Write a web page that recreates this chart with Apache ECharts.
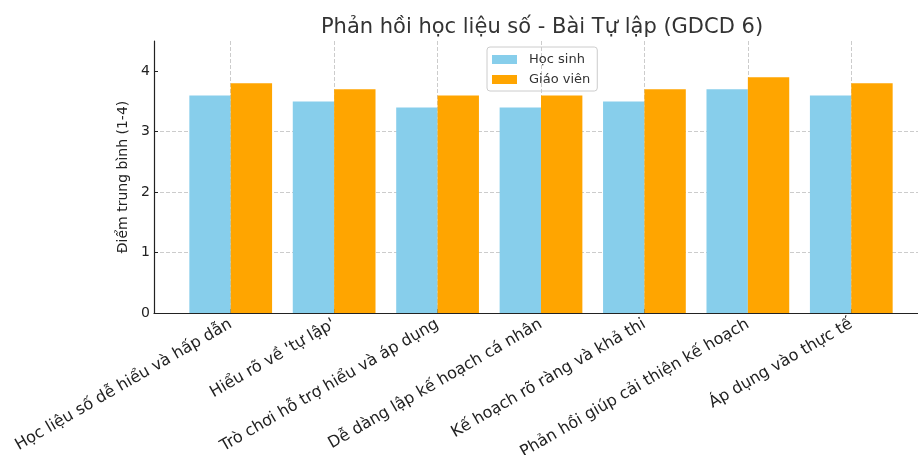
<!DOCTYPE html>
<html>
<head>
<meta charset="utf-8">
<script src="https://cdn.jsdelivr.net/npm/echarts@6/dist/echarts.min.js"></script>
<style>
    html, body { margin: 0; padding: 0; background: #fff; }
    #chart { width: 918px; height: 455px; }
</style>
</head>
<body>
<div id="chart"></div>
<script>
var categories = [
    "Học liệu số dễ hiểu và hấp dẫn",
    "Hiểu rõ về 'tự lập'",
    "Trò chơi hỗ trợ hiểu và áp dụng",
    "Dễ dàng lập kế hoạch cá nhân",
    "Kế hoạch rõ ràng và khả thi",
    "Phản hồi giúp cải thiện kế hoạch",
    "Áp dụng vào thực tế"
];
var hocSinh = [3.6, 3.5, 3.4, 3.4, 3.5, 3.7, 3.6];
var giaoVien = [3.8, 3.7, 3.6, 3.6, 3.7, 3.9, 3.8];
var yTicks = [0, 1, 2, 3, 4];

var font = "DejaVu Sans";
var chart = echarts.init(document.getElementById("chart"));
chart.setOption({
    animation: false,
    color: ["#87CEEB", "#FFA500"],
    textStyle: { fontFamily: font },
    title: {
        text: "Phản hồi học liệu số - Bài Tự lập (GDCD 6)",
        left: 537,
        textAlign: "center",
        top: 12,
        textStyle: { fontSize: 21, fontWeight: "normal", color: "#333", fontFamily: font }
    },
    legend: {
        left: 487,
        top: 47,
        orient: "vertical",
        itemWidth: 25,
        itemHeight: 9,
        itemGap: 7,
        padding: [6, 7, 5, 5],
        borderColor: "#ccc",
        borderWidth: 1,
        borderRadius: 3,
        icon: "rect",
        textStyle: { fontSize: 13, color: "#333", fontFamily: font, padding: [0, 0, 0, 7] },
        data: ["Học sinh", "Giáo viên"]
    },
    grid: [
        // full axes frame
        { left: 154, right: -10, top: 41, bottom: 142, outerBoundsMode: "none" },
        // bar area, category bands
        { left: 179, right: 15, top: 41, bottom: 142, outerBoundsMode: "none" }
    ],
    xAxis: [
        {
            gridIndex: 0,
            type: "value",
            min: -0.74,
            max: 6.74,
            axisLine: { show: true, onZero: false, lineStyle: { color: "#222", width: 1.2 } },
            axisTick: { show: false },
            axisLabel: { show: false },
            splitLine: { show: false }
        },
        {
            gridIndex: 1,
            type: "category",
            data: categories,
            axisLine: { show: false },
            axisTick: { show: true, inside: true, alignWithLabel: true, length: 4, lineStyle: { color: "#222" } },
            axisLabel: { rotate: 30, fontSize: 16, color: "#222", margin: 10, fontFamily: font, interval: 0 },
            splitLine: { show: true, alignWithLabel: true, lineStyle: { type: "dashed", color: "#ccc" } }
        }
    ],
    yAxis: [
        {
            gridIndex: 0,
            type: "value",
            min: 0,
            max: 4.5,
            interval: 1,
            name: "Điểm trung bình (1-4)",
            nameLocation: "middle",
            nameGap: 18,
            nameTextStyle: { fontSize: 14, color: "#222", fontFamily: font },
            axisLine: { show: true, onZero: false, lineStyle: { color: "#222", width: 1.2 } },
            axisTick: { show: true, inside: true, length: 4, customValues: yTicks, lineStyle: { color: "#222" } },
            axisLabel: { fontSize: 14, color: "#222", margin: 4, fontFamily: font, customValues: yTicks },
            splitLine: { show: true, showMaxLine: false, lineStyle: { type: "dashed", color: "#ccc" } }
        },
        {
            gridIndex: 1,
            type: "value",
            min: 0,
            max: 4.5,
            show: false,
            splitLine: { show: false }
        }
    ],
    series: [
        {
            name: "Học sinh",
            type: "bar",
            xAxisIndex: 1,
            yAxisIndex: 1,
            barWidth: "40%",
            barGap: "0%",
            data: hocSinh
        },
        {
            name: "Giáo viên",
            type: "bar",
            xAxisIndex: 1,
            yAxisIndex: 1,
            barWidth: "40%",
            barGap: "0%",
            data: giaoVien
        }
    ]
});
</script>
</body>
</html>
